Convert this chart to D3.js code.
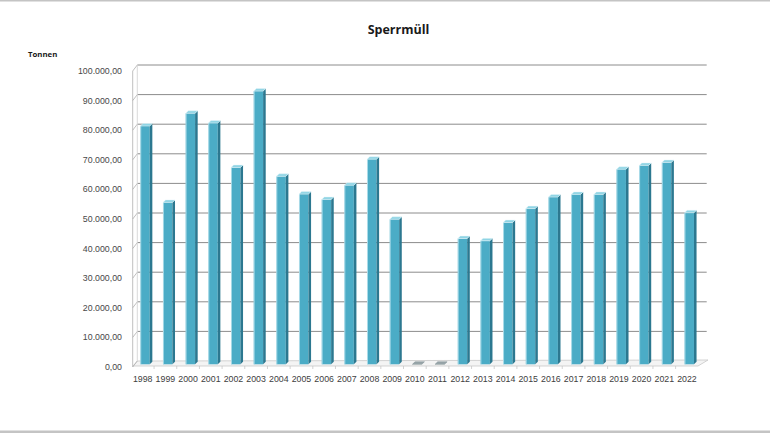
<!DOCTYPE html>
<html><head><meta charset="utf-8">
<script src="https://cdn.jsdelivr.net/npm/d3@7/dist/d3.min.js"></script>
<style>body{margin:0;background:#fff}svg{display:block}</style>
</head><body>
<script>
const years = ["1998","1999","2000","2001","2002","2003","2004","2005","2006","2007","2008","2009","2010","2011","2012","2013","2014","2015","2016","2017","2018","2019","2020","2021","2022"];
const tonnen = [80500,54700,84800,81500,66500,92300,63500,57500,55700,60500,69300,49000,0,0,42500,41700,47900,52600,56500,57400,57400,65900,67200,68200,51200];
const yTicks = [0,10000,20000,30000,40000,50000,60000,70000,80000,90000,100000];
const title = "Sperrmüll";
const yTitle = "Tonnen";

const W = 770, H = 433;
const svg = d3.select("body").append("svg").attr("width", W).attr("height", H);
const de = d3.formatLocale({decimal: ",", thousands: ".", grouping: [3], currency: ["", "€"]});
const fmt = de.format(",.2f");

// frame lines
svg.append("rect").attr("x",0).attr("y",0).attr("width",W).attr("height",1.5).attr("fill","#c4c4c4");
svg.append("rect").attr("x",0).attr("y",430.5).attr("width",W).attr("height",2.5).attr("fill","#c4c4c4");

const x = d3.scaleBand().domain(years).range([131.4, 698.3]);
const yBack = d3.scaleLinear().domain([0, 100000]).range([361, 65]);
const yBar = d3.scaleLinear().domain([0, 100000]).range([364.3, 68.3]);
const DX = 4.5, DY = 6;

// floor
svg.append("path")
  .attr("d", `M133,${yBack(0)+5}L698,${yBack(0)+5}L708,${yBack(0)-1}L137.3,${yBack(0)}Z`)
  .attr("fill","#f4f4f4").attr("stroke","#c8c8c8").attr("stroke-width",0.8);
svg.append("g").selectAll("line").data(years.slice(1)).join("line")
  .attr("x1", d => x(d)).attr("x2", d => x(d))
  .attr("y1", yBack(0)+5).attr("y2", yBack(0)+8)
  .attr("stroke","#c8c8c8").attr("stroke-width",0.8);

// gridlines on back wall
const grid = svg.append("g");
grid.selectAll("line.g").data(yTicks.slice(1)).join("line").attr("class","g")
  .attr("x1",137.3).attr("x2",706.7)
  .attr("y1", d => yBack(d)).attr("y2", d => yBack(d))
  .attr("stroke","#8c8c8c").attr("stroke-width",1);
grid.selectAll("line.c").data(yTicks).join("line").attr("class","c")
  .attr("x1",132.7).attr("x2",137.3)
  .attr("y1", d => yBack(d)+DY).attr("y2", d => yBack(d))
  .attr("stroke","#b0b0b0").attr("stroke-width",0.8);
svg.append("line").attr("x1",132.7).attr("x2",132.7)
  .attr("y1", yBack(100000)+DY).attr("y2", yBack(0)+DY)
  .attr("stroke","#b0b0b0").attr("stroke-width",0.8);
svg.append("line").attr("x1",137.3).attr("x2",137.3)
  .attr("y1", yBack(100000)).attr("y2", yBack(0))
  .attr("stroke","#d0d0d0").attr("stroke-width",0.8);

// y tick labels
svg.append("g").selectAll("text").data(yTicks).join("text")
  .attr("x",122).attr("y", d => yBack(d)+DY+3)
  .attr("text-anchor","end")
  .attr("font-family","Liberation Sans, Arial, sans-serif").attr("font-size",8.8)
  .attr("fill","#484848").text(d => fmt(d));

// bars
const FW = 9.4, SW = 2.6, CAP = 2.5;
const bars = svg.append("g").selectAll("g").data(years.map((y,i)=>({y, v:tonnen[i]}))).join("g");
bars.each(function(d){
  const g = d3.select(this);
  const x0 = x(d.y) + x.bandwidth()/2 - 2.4;
  const top = yBar(d.v), bot = yBar(0);
  if (d.v > 0) {
    g.append("rect").attr("x",x0).attr("y",top).attr("width",FW).attr("height",bot-top).attr("fill","#4bacc6");
    g.append("path").attr("d",`M${x0+FW},${top}L${x0+FW+SW},${top-CAP}L${x0+FW+SW},${bot-CAP}L${x0+FW},${bot}Z`).attr("fill","#2c7890");
    g.append("line").attr("x1",x0+0.4).attr("x2",x0+0.4).attr("y1",top).attr("y2",bot).attr("stroke","#bfe6f0").attr("stroke-width",0.8);
  }
  g.append("path").attr("d",`M${x0},${top}L${x0+FW},${top}L${x0+FW+SW},${top-CAP}L${x0+SW},${top-CAP}Z`)
    .attr("fill", d.v > 0 ? "#8fd4e4" : "#9aa7ab").attr("stroke", d.v>0 ? "#e8f7fb" : "#7b8a8f").attr("stroke-width",0.5);
});

// x labels
svg.append("g").selectAll("text").data(years).join("text")
  .attr("x", d => x(d) + x.bandwidth()/2).attr("y", 382)
  .attr("text-anchor","middle")
  .attr("font-family","Liberation Sans, Arial, sans-serif").attr("font-size",8.8)
  .attr("fill","#404040").text(d => d);

// title
svg.append("text").attr("x",398.5).attr("y",33.5).attr("text-anchor","middle")
  .attr("font-family","Open Sans, Liberation Sans, sans-serif").attr("font-weight","bold")
  .attr("font-size",12.5).attr("fill","#1a1a1a").text(title);
svg.append("text").attr("x",28).attr("y",57).attr("text-anchor","start")
  .attr("font-family","Open Sans, Liberation Sans, sans-serif").attr("font-weight","bold")
  .attr("font-size",7.8).attr("fill","#1a1a1a").text(yTitle);
</script>
</body></html>
